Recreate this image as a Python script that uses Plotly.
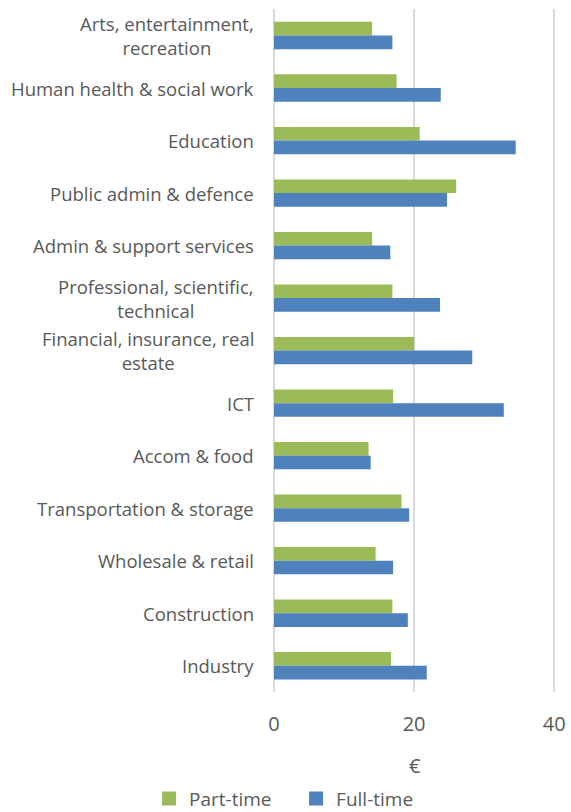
import plotly.graph_objects as go

# Sectors, listed top to bottom as displayed
sectors = [
    "Arts, entertainment,<br>recreation",
    "Human health & social work",
    "Education",
    "Public admin & defence",
    "Admin & support services ",
    "Professional, scientific,<br>technical",
    "Financial, insurance, real<br>estate",
    "ICT",
    "Accom & food",
    "Transportation & storage",
    "Wholesale & retail",
    "Construction",
    "Industry",
]

part_time = [14.0, 17.5, 20.8, 26.0, 14.0, 16.9, 20.0, 17.0, 13.5, 18.2, 14.5, 16.9, 16.7]
full_time = [16.9, 23.8, 34.5, 24.7, 16.6, 23.7, 28.3, 32.8, 13.8, 19.3, 17.0, 19.1, 21.8]

x_ticks = [0, 20, 40]
x_title = "€"

GREEN = "#9BBB59"
BLUE = "#4F81BD"
TEXT = "#595959"
GRID = "#D9D9D9"
FONT = "Open Sans"

fig = go.Figure()
fig.add_trace(go.Bar(y=sectors, x=part_time, name="Part-time", orientation="h",
                     marker=dict(color=GREEN, line=dict(width=0)), showlegend=False))
fig.add_trace(go.Bar(y=sectors, x=full_time, name="Full-time", orientation="h",
                     marker=dict(color=BLUE, line=dict(width=0)), showlegend=False))

# Legend entries with larger square swatches
for name, color in [("Part-time", GREEN), ("Full-time", BLUE)]:
    fig.add_trace(go.Scatter(x=[None], y=[None], mode="markers", name=name,
                             marker=dict(symbol="square", size=14, color=color)))

# Category labels as annotations so wrapped lines are centred
for s in sectors:
    fig.add_annotation(x=0, xref="paper", y=s, yref="y", text=s.rstrip(),
                       showarrow=False, xanchor="right", yanchor="middle",
                       xshift=-18, align="center",
                       font=dict(family=FONT, size=18.5, color=TEXT))

# Value-axis title below the tick labels
fig.add_annotation(x=0.5, xref="paper", y=-0.108, yref="paper", text=x_title,
                   showarrow=False, xanchor="center", yanchor="middle",
                   font=dict(family=FONT, size=20, color=TEXT))

fig.update_layout(
    width=571, height=812,
    margin=dict(l=274, r=15, t=9, b=120, autoexpand=False),
    paper_bgcolor="white", plot_bgcolor="white",
    barmode="group", bargap=0.48, bargroupgap=0,
    font=dict(family=FONT, color=TEXT),
    showlegend=True,
    legend=dict(orientation="h", xref="paper", x=-0.443, xanchor="left",
                yref="paper", y=-0.156, yanchor="middle",
                font=dict(family=FONT, size=19, color=TEXT),
                itemwidth=30, traceorder="normal", entrywidth=102),
    xaxis=dict(range=[0, 40.25], tickvals=x_ticks, ticktext=[str(v) for v in x_ticks],
               showgrid=True, gridcolor=GRID, gridwidth=1.5,
               zeroline=True, zerolinecolor=GRID, zerolinewidth=1.5,
               showline=False, ticks="", ticklabelstandoff=18,
               tickfont=dict(family=FONT, size=20, color=TEXT)),
    yaxis=dict(autorange="reversed", showticklabels=False, showgrid=False,
               zeroline=False, showline=False, ticks=""),
)

fig.write_html("out.html")
